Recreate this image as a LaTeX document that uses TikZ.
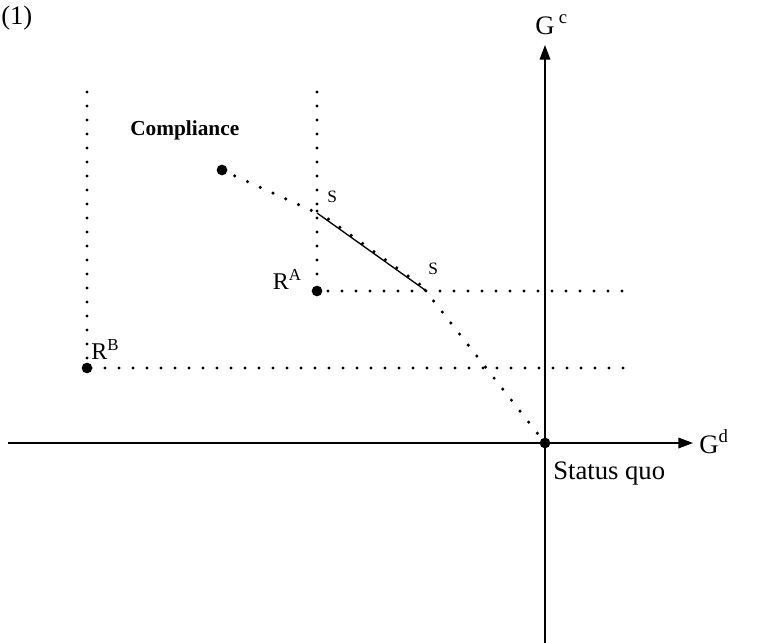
\documentclass[tikz,border=0pt]{standalone}
\usepackage{fontspec}
\setmainfont{Liberation Serif}
\usetikzlibrary{arrows.meta}
\tikzset{
    dotline/.style={line width=2.6pt, line cap=round, dash pattern=on 0pt off 10.5pt},
    axis/.style={line width=1.1pt, -{Triangle[length=11pt,width=8pt]}},
    pt/.style={circle, fill=black, inner sep=0pt, minimum size=8pt},
    lbl/.style={inner sep=0pt, font=\fontsize{20}{24}\selectfont}
}
\begin{document}
\begin{tikzpicture}[x=0.75pt, y=-0.75pt]
    \useasboundingbox (0,0) rectangle (769,643);
    % Points
    \coordinate (sqpt) at (545,443);
    \coordinate (rapt) at (317,291);
    \coordinate (rbpt) at (87,368);
    \coordinate (cmpt) at (222,170);
    \coordinate (sone) at (317,213);
    \coordinate (stwo) at (425,290);
    \coordinate (topa) at (87,92);
    \coordinate (topb) at (317,92);
    \coordinate (enda) at (625,291);
    \coordinate (endb) at (632,368);
    \coordinate (xl) at (8,443);
    \coordinate (xr) at (693,443);
    \coordinate (yb) at (545,643);
    \coordinate (yt) at (545,45);
    % Axes
    \draw[axis] (xl) -- (xr);
    \draw[axis] (yb) -- (yt);
    % Dotted boundaries
    \draw[dotline] (topa) -- (rbpt) -- (endb);
    \draw[dotline] (topb) -- (rapt) -- (enda);
    % Compliance path
    \draw[dotline] (cmpt) -- (sone);
    \draw[dotline] ([yshift=1.5pt]sone) -- ([yshift=1.5pt]stwo);
    \draw[dotline] (stwo) -- (sqpt);
    \draw[line width=1pt] (sone) -- (stwo);
    % Dots
    \node[pt] (sq) at (sqpt) {};
    \node[pt] (ra) at (rapt) {};
    \node[pt] (rb) at (rbpt) {};
    \node[pt] (cm) at (cmpt) {};
    % Labels
    \node[lbl, anchor=base west] (num) at (1,24) {(1)};
    \node[lbl, anchor=base west] (gc) at (535,34) {G\,\textsuperscript{c}};
    \node[lbl, anchor=base west] (gd) at (699,453) {G\textsuperscript{d}};
    \node[lbl, anchor=base west] (stq) at (553,479) {Status quo};
    \node[lbl, anchor=base west, font=\fontsize{16}{19}\selectfont\bfseries] (comp) at (130,135) {Compliance};
    \node[lbl, anchor=base east, font=\fontsize{18}{21}\selectfont] (ral) at (302,289) {R\textsuperscript{A}};
    \node[lbl, anchor=base west, font=\fontsize{18}{21}\selectfont] (rbl) at (91,359) {R\textsuperscript{B}};
    \node[lbl, anchor=base west, font=\fontsize{13}{15}\selectfont] (sa) at (327,202) {S};
    \node[lbl, anchor=base west, font=\fontsize{13}{15}\selectfont] (sb) at (428,274) {S};
\end{tikzpicture}
\end{document}
